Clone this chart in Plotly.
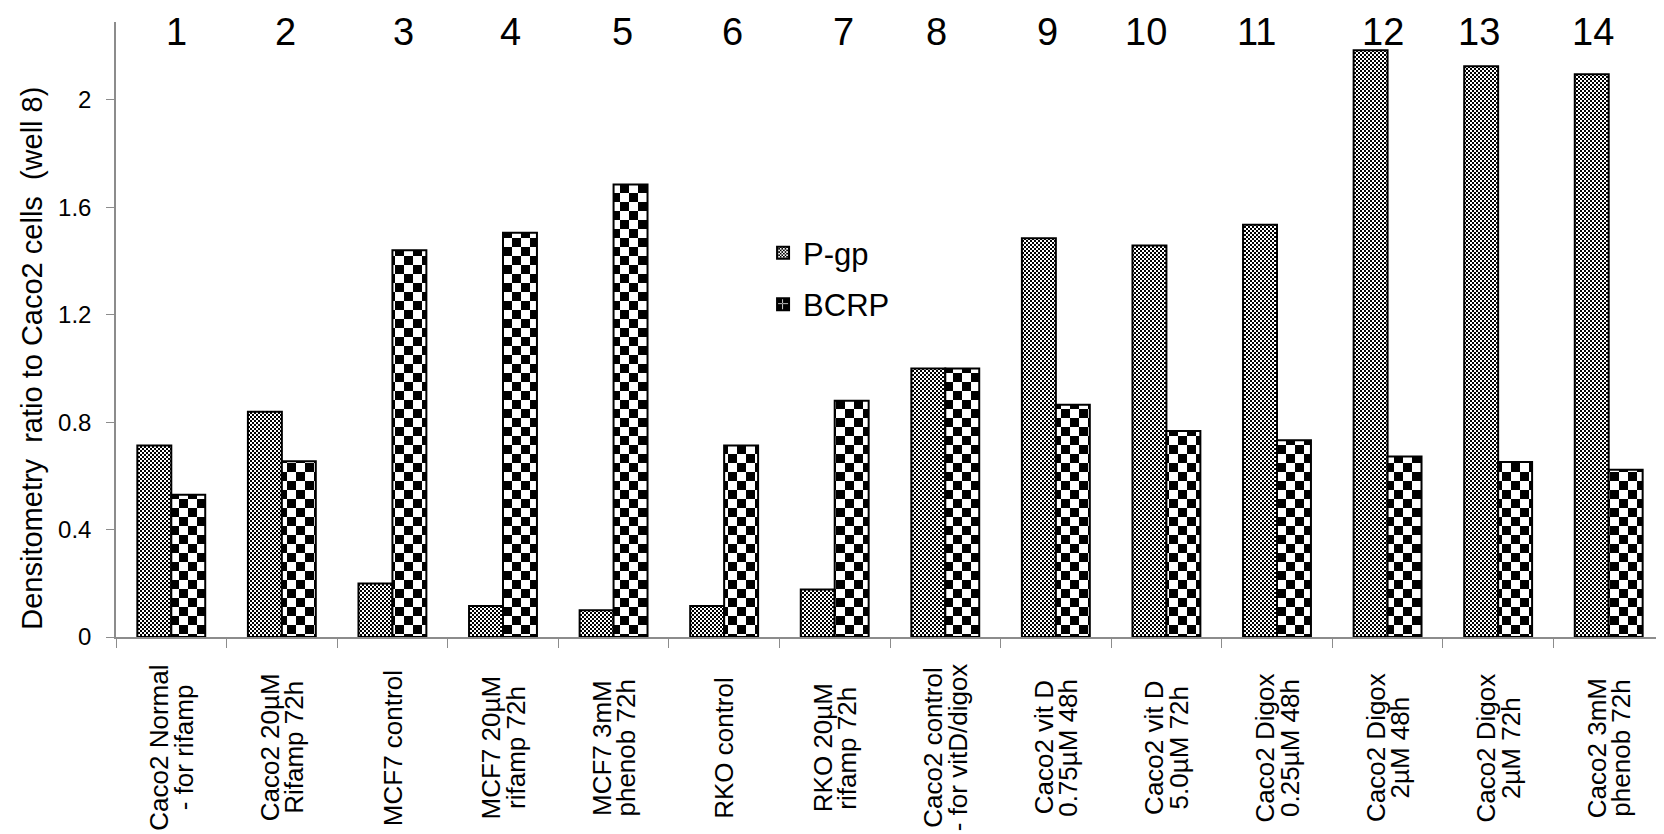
import plotly.graph_objects as go

categories = [
    "Caco2 Normal<br>- for rifamp",
    "Caco2 20µM<br>Rifamp 72h",
    "MCF7 control",
    "MCF7 20µM<br>rifamp 72h",
    "MCF7 3mM<br>phenob 72h",
    "RKO control",
    "RKO 20µM<br>rifamp 72h",
    "Caco2 control<br>- for vitD/digox",
    "Caco2 vit D<br>0.75µM 48h",
    "Caco2 vit D<br>5.0µM 72h",
    "Caco2 Digox<br>0.25µM 48h",
    "Caco2 Digox<br>2µM 48h",
    "Caco2 Digox<br>2µM 72h",
    "Caco2 3mM<br>phenob 72h",
]
well_numbers = [str(i) for i in range(1, 15)]
pgp = [0.713, 0.839, 0.199, 0.115, 0.100, 0.115, 0.177, 1.0, 1.485, 1.458, 1.535, 2.185, 2.125, 2.095]
bcrp = [0.530, 0.654, 1.440, 1.505, 1.685, 0.713, 0.880, 1.0, 0.865, 0.767, 0.733, 0.672, 0.652, 0.623]
y_ticks = [0, 0.4, 0.8, 1.2, 1.6, 2]
y_tick_text = ["0", "0.4", "0.8", "1.2", "1.6", "2"]
y_title = "Densitometry  ratio to Caco2 cells  (well 8)"

# layout tweak: horizontal pixel offsets of the well numbers (as placed in the original figure)
number_xshift = [5, 3, 10, 7, 8, 8, 8, -8, -8, -19, -19, -4, -18, -15]

FONT = "Liberation Sans, Arial, sans-serif"
LABEL_LINE_GAP = 24.5

def checker(n):
    h = n / 2
    return f"M0,0H{h}V{h}H0Z M{h},{h}H{n}V{n}H{h}Z"

fig = go.Figure()
fig.add_trace(go.Bar(
    x=categories, y=pgp, name="P-gp", legendgroup="a",
    marker=dict(color="white", line=dict(color="black", width=2),
                pattern=dict(path=checker(4), size=4, fgcolor="black", bgcolor="white",
                             fillmode="replace", solidity=1)),
))
fig.add_trace(go.Bar(
    x=categories, y=bcrp, name="BCRP", legendgroup="b",
    marker=dict(color="white", line=dict(color="black", width=2),
                pattern=dict(path=checker(18), size=18, fgcolor="black", bgcolor="white",
                             fillmode="replace", solidity=1)),
))

for cat, num, dx in zip(categories, well_numbers, number_xshift):
    fig.add_annotation(x=cat, y=0.984, yref="paper", text=num, showarrow=False,
                       xshift=dx * 1.06,
                       font=dict(family=FONT, size=38, color="black"), yanchor="middle")

for cat in categories:
    lines = cat.split("<br>")
    n = len(lines)
    for i, line in enumerate(lines):
        fig.add_annotation(x=cat, y=-0.180, yref="paper", text=line, showarrow=False,
                           textangle=-90, xanchor="center", yanchor="middle",
                           xshift=(i - (n - 1) / 2) * LABEL_LINE_GAP,
                           font=dict(family=FONT, size=26, color="black"))

fig.add_annotation(x=-0.0543, xref="paper", y=0.454, yref="paper", text=y_title,
                   showarrow=False, textangle=-90, xanchor="center", yanchor="middle",
                   font=dict(family=FONT, size=29, color="black"))

fig.update_layout(
    width=1656, height=826,
    margin=dict(l=108, r=0, t=14, b=197),
    paper_bgcolor="white", plot_bgcolor="white",
    barmode="group", bargap=0.386, bargroupgap=0,
    font=dict(family=FONT, color="black"),
    legend=dict(x=0.418, y=0.668, xanchor="left", yanchor="top",
                font=dict(size=31, family=FONT), traceorder="grouped",
                tracegroupgap=8, bgcolor="rgba(0,0,0,0)"),
    xaxis=dict(showline=True, linecolor="#8c8c8c", linewidth=1.5,
               ticks="outside", tickson="boundaries", ticklen=9, tickcolor="#8c8c8c",
               showticklabels=False, showgrid=False),
    yaxis=dict(range=[0, 2.29], showline=True, linecolor="#8c8c8c", linewidth=1.5,
               ticks="outside", ticklen=8, tickcolor="#8c8c8c", showgrid=False,
               tickvals=y_ticks, ticktext=y_tick_text, tickfont=dict(size=24, family=FONT),
               ticklabelstandoff=10, zeroline=False),
)

fig.write_html("out.html")
